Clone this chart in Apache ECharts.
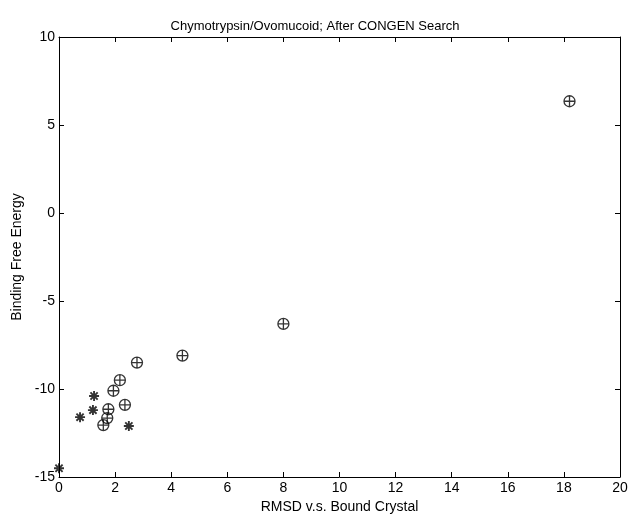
<!DOCTYPE html>
<html>
<head>
<meta charset="utf-8">
<script src="https://cdn.jsdelivr.net/npm/echarts@6/dist/echarts.min.js"></script>
<style>
  html, body { margin: 0; padding: 0; background: #fff; }
  #chart { width: 630px; height: 514px; }
</style>
</head>
<body>
<div id="chart"></div>
<script>
// Docked complexes found by the search (RMSD, binding free energy)
const searchRmsd   = [18.2, 8.0, 4.4, 2.78, 2.17, 1.94, 2.35, 1.76, 1.72, 1.58];
const searchEnergy = [6.35, -6.3, -8.1, -8.5, -9.5, -10.1, -10.9, -11.15, -11.65, -12.05];

// Reference / near-native structures
const nativeRmsd   = [0, 0.75, 1.21, 1.25, 2.49];
const nativeEnergy = [-14.5, -11.6, -11.2, -10.4, -12.1];

const xTicks = [0, 2, 4, 6, 8, 10, 12, 14, 16, 18, 20];
const yTicks = [-15, -10, -5, 0, 5, 10];

const titleText = 'Chymotrypsin/Ovomucoid; After CONGEN Search';
const xName = 'RMSD v.s. Bound Crystal';
const yName = 'Binding Free Energy';

const pairs = (xs, ys) => xs.map((x, i) => [x, ys[i]]);

// circle with a cross inside, and an eight-armed asterisk
const circlePlus = 'path://M0,-5A5,5 0 1,1 0,5A5,5 0 1,1 0,-5ZM-5,0L5,0M0,-5L0,5';
const asterisk = 'path://M-5,0L5,0M0,-5L0,5M-3.6,-3.6L3.6,3.6M-3.6,3.6L3.6,-3.6';

const font = 'Liberation Sans, Arial, Helvetica, sans-serif';

const axisCommon = {
  type: 'value',
  axisLine: { show: true, onZero: false, lineStyle: { color: '#000', width: 1 } },
  axisTick: { show: true, inside: true, length: 5, lineStyle: { color: '#000' } },
  splitLine: { show: false },
  axisLabel: { color: '#000', fontSize: 14, fontFamily: font },
};

const chart = echarts.init(document.getElementById('chart'), null, { renderer: 'canvas' });
chart.setOption({
  animation: false,
  backgroundColor: '#fff',
  title: {
    text: titleText,
    left: 'center',
    top: 15,
    textStyle: { color: '#000', fontSize: 13, fontWeight: 'normal', fontFamily: font },
  },
  grid: { left: 59, right: 10, top: 37, bottom: 37, outerBoundsMode: 'none' },
  xAxis: [
    Object.assign({}, axisCommon, {
      position: 'bottom', min: xTicks[0], max: xTicks[xTicks.length - 1], interval: 2,
      name: xName, nameLocation: 'middle', nameGap: 20,
      nameTextStyle: { color: '#000', fontSize: 14, fontFamily: font },
      axisLabel: Object.assign({}, axisCommon.axisLabel, { margin: 4 }),
    }),
    Object.assign({}, axisCommon, {
      position: 'top', min: xTicks[0], max: xTicks[xTicks.length - 1], interval: 2,
      axisLabel: { show: false },
    }),
  ],
  yAxis: [
    Object.assign({}, axisCommon, {
      position: 'left', min: yTicks[0], max: yTicks[yTicks.length - 1], interval: 5,
      name: yName, nameLocation: 'middle', nameGap: 23,
      nameTextStyle: { color: '#000', fontSize: 14, fontFamily: font },
      axisLabel: Object.assign({}, axisCommon.axisLabel, { margin: 4 }),
    }),
    Object.assign({}, axisCommon, {
      position: 'right', min: yTicks[0], max: yTicks[yTicks.length - 1], interval: 5,
      axisLabel: { show: false },
    }),
  ],
  series: [
    {
      type: 'scatter',
      data: pairs(searchRmsd, searchEnergy),
      symbol: circlePlus,
      symbolSize: 11,
      itemStyle: { color: 'rgba(0,0,0,0)', borderColor: '#000', borderWidth: 1.3 },
      clip: false,
    },
    {
      type: 'scatter',
      data: pairs(nativeRmsd, nativeEnergy),
      symbol: asterisk,
      symbolSize: 10,
      itemStyle: { color: 'rgba(0,0,0,0)', borderColor: '#000', borderWidth: 1.9 },
      clip: false,
    },
  ],
});
</script>
</body>
</html>
